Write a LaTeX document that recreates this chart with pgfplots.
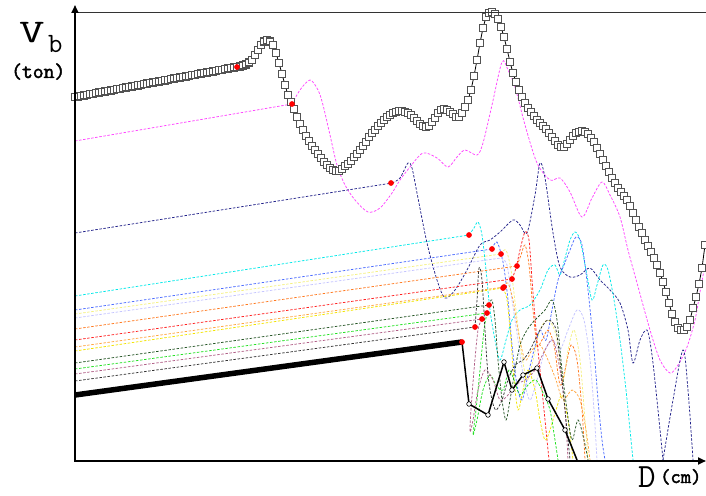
\documentclass[border=0pt]{standalone}
\usepackage{pgfplots}
\pgfplotsset{compat=1.18}
\usetikzlibrary{arrows.meta}
\usepackage{fontspec}
\newfontfamily\mono{Latin Modern Mono}
\newfontfamily\monob[AutoFakeBold=2.2]{Latin Modern Mono}
\definecolor{cMag}{HTML}{FF44FF}
\definecolor{cNavy}{HTML}{22228A}
\definecolor{cCyan}{HTML}{00E8E8}
\definecolor{cBlue}{HTML}{4C6CFF}
\definecolor{cLYel}{HTML}{F4F080}
\definecolor{cLav}{HTML}{C4C4FF}
\definecolor{cOrg}{HTML}{FF7A20}
\definecolor{cRed}{HTML}{FF2020}
\definecolor{cLOrg}{HTML}{FFA640}
\definecolor{cYel}{HTML}{F2E400}
\definecolor{cDGr}{HTML}{245424}
\definecolor{cGrn}{HTML}{20E020}
\definecolor{cMauve}{HTML}{B05E86}
\definecolor{cBlk}{HTML}{333333}
\tikzset{dl/.style={color=#1,line width=0.75pt,dash pattern=on 2.5pt off 1.6pt}}
\begin{document}
\begin{tikzpicture}
\begin{axis}[at={(0,0)},anchor=south west,scale only axis,width=631pt,height=448pt,
  xmin=75,xmax=706,ymin=12,ymax=460,y dir=reverse,hide axis,clip=false]
% magenta
\addplot[dl=cMag] coordinates {(75,141) (292,104)};
\addplot[dl=cMag,smooth] coordinates {(292,104) (300,90) (310,80) (318,90) (323,105) (330,135) (337,165) (345,185) (355,200) (368,212) (380,208) (392,193) (400,180) (410,167) (423,153) (437,158) (448,167) (457,157) (465,150) (477,155) (483,143) (492,105) (502,62) (508,70) (515,87) (525,125) (537,163) (550,180) (560,178) (570,192) (582,217) (592,198) (602,182) (610,195) (620,217) (628,250) (637,283) (650,330) (660,360) (670,373) (678,365) (687,347) (695,320) (700,292) (705,265)};
% navy
\addplot[dl=cNavy] coordinates {(75,233) (392,183)};
\addplot[dl=cNavy,smooth] coordinates {(392,183) (400,178) (408,163) (412,168) (417,193) (427,243) (437,280) (445,298) (455,290) (467,270) (480,245) (490,240) (500,232) (513,220) (520,225) (527,233) (535,195) (540,163) (545,178) (553,233) (560,267) (570,277) (580,275) (590,268) (600,280) (610,290) (620,303) (628,330) (633,363) (640,340) (647,330) (652,355) (658,410) (663,460)};
\addplot[dl=cNavy,smooth] coordinates {(663,460) (673,400) (683,350) (688,390) (693,460)};
% cyan
\addplot[dl=cCyan] coordinates {(75,296) (469,235)};
\addplot[dl=cCyan,smooth] coordinates {(469,235) (474,228) (478,222) (482,235) (486,270) (490,310) (495,340) (500,360) (506,340) (512,320) (520,310) (530,305) (540,290) (548,270) (555,265) (560,275) (565,258) (570,240) (575,232) (580,240) (586,270) (592,300) (597,285) (603,265) (608,270) (614,300) (620,340) (626,390) (630,430) (633,460)};
% blue
\addplot[dl=cBlue] coordinates {(75,310) (492,249)};
\addplot[dl=cBlue,smooth] coordinates {(492,249) (497,242) (503,262) (508,300) (512,345) (517,385) (522,400) (528,375) (534,350) (540,330) (546,340) (552,310) (558,280) (564,265) (570,250) (576,237) (582,245) (588,290) (594,350) (598,400) (602,440) (605,460)};
% light yellow
\addplot[dl=cLYel] coordinates {(75,314) (501,254)};
\addplot[dl=cLYel,smooth] coordinates {(501,254) (506,250) (511,270) (516,310) (521,350) (527,380) (533,360) (540,330) (548,320) (556,335) (563,380) (568,350) (574,330) (580,360) (585,420) (588,460)};
% lavender
\addplot[dl=cLav] coordinates {(75,318) (501,258)};
\addplot[dl=cLav,smooth] coordinates {(501,258) (507,265) (512,300) (518,340) (524,380) (530,400) (537,380) (545,350) (553,340) (560,350) (568,330) (577,310) (584,320) (590,360) (594,410) (597,460)};
% orange
\addplot[dl=cOrg] coordinates {(75,329) (517,266)};
\addplot[dl=cOrg,smooth] coordinates {(517,266) (521,255) (525,245) (529,265) (533,310) (537,345) (542,340) (548,330) (554,345) (560,385) (565,370) (571,345) (577,360) (582,410) (585,460)};
% red
\addplot[dl=cRed] coordinates {(75,340) (512,279)};
\addplot[dl=cRed,smooth] coordinates {(512,279) (516,268) (520,250) (525,232) (529,240) (532,280) (536,330) (540,370) (544,410) (547,440) (549,460)};
% light orange
\addplot[dl=cLOrg] coordinates {(75,347) (504,287)};
\addplot[dl=cLOrg,smooth] coordinates {(504,287) (508,283) (513,300) (518,330) (525,360) (532,350) (540,345) (548,360) (556,380) (563,400) (572,390) (580,400) (586,430) (590,460)};
% yellow
\addplot[dl=cYel] coordinates {(75,351) (503,288)};
\addplot[dl=cYel,smooth] coordinates {(503,288) (507,300) (511,340) (514,380) (518,410) (522,395) (528,370) (535,390) (540,420) (545,440) (550,430) (556,410) (562,395) (568,420) (573,460)};
% dark green
\addplot[dl=cDGr] coordinates {(75,363) (489,305)};
\addplot[dl=cDGr,smooth] coordinates {(489,305) (492,300) (495,320) (498,360) (502,400) (506,420) (510,400) (515,370) (520,345) (527,330) (535,320) (545,310) (552,300) (557,320) (562,370) (567,410) (572,440) (578,420) (584,440) (588,460)};
% green
\addplot[dl=cGrn] coordinates {(75,369) (487,313)};
\addplot[dl=cGrn,smooth] coordinates {(487,313) (484,330) (480,370) (476,410) (473,435) (477,420) (483,390) (490,375) (496,385) (503,390) (509,370) (514,380) (520,395) (528,385) (536,380) (544,395) (550,410) (555,440) (558,460)};
% mauve
\addplot[dl=cMauve] coordinates {(75,374) (482,319)};
\addplot[dl=cMauve,smooth] coordinates {(482,319) (478,330) (474,370) (471,410) (470,432) (473,420) (478,390) (485,370) (493,380) (500,400) (508,395) (515,385) (525,380) (535,370) (545,350) (553,340) (560,370) (565,410) (568,460)};
% black dashed
\addplot[dl=cBlk] coordinates {(75,381) (475,327)};
\addplot[dl=cBlk,smooth] coordinates {(475,327) (477,300) (479,268) (482,280) (485,330) (488,375) (492,400) (496,410) (502,400) (508,380) (515,365) (523,360) (530,350) (540,330) (548,320) (556,330) (562,380) (566,420) (570,460)};
% thick black line and circle line
\addplot[black,line width=5.5pt] coordinates {(75,395) (462,342)};
\addplot[black,line width=1.5pt] coordinates {(462,342) (469,404)};
\addplot[black,line width=1.5pt] coordinates {(565,430) (577,460)};
\addplot[black,line width=1.5pt,mark=*,mark size=2.3pt,mark options={fill=white,draw=black,line width=0.6pt}] coordinates {(469,404) (488,415) (504,362) (512,390) (523,375) (537,368) (548,399) (565,430)};
% main square curve
\addplot[black,line width=0.8pt,mark=square*,mark size=3.5pt,mark options={fill=white,draw=black!68,line width=1.4pt}] coordinates {
(75,97.0) (78,96.4) (81,95.9) (84,95.3) (87,94.8) (90,94.2) (93,93.7) (96,93.1) (99,92.6) (102,92.0)
(105,91.4) (108,90.9) (111,90.3) (114,89.8) (117,89.2) (120,88.7) (123,88.1) (126,87.6) (129,87.0) (132,86.4)
(135,85.9) (138,85.3) (141,84.8) (144,84.2) (147,83.7) (150,83.1) (153,82.6) (156,82.0) (159,81.4) (162,80.9)
(165,80.3) (168,79.8) (171,79.2) (174,78.7) (177,78.1) (180,77.6) (183,77.0) (186,76.4) (189,75.9) (192,75.3)
(195,74.8) (198,74.2) (201,73.7) (204,73.1) (207,72.6) (210,72.0) (213,71.4) (216,70.9) (219,70.3) (222,69.8)
(225,69.2) (228,68.7) (231,68.1) (234,67.6) (237,67) (240,66.5) (243,65.5) (246,64.5) (249,62.5) (252,60)
(255,55) (258,50) (261,45) (264,41.5) (267,40) (270,41.5) (273,45) (276,53) (279,63) (282,74)
(285,85) (288,95) (291,102) (294,109) (297,117) (300,124) (303,130) (306,136) (309,141) (312,146)
(315,150) (318,154) (321,158) (324,162) (327,165) (330,168) (333,170) (336,171) (339,171) (342,169)
(345,166) (348,164) (351,161) (354,157) (357,154) (360,150) (363,146) (366,142) (369,137) (372,133)
(375,130) (378,126) (381,123) (384,120) (387,117) (390,115) (393,113) (396,112) (399,111) (402,111)
(405,112) (408,113) (411,115) (414,118) (417,121) (420,124) (423,126) (426,127) (429,126) (432,122)
(435,118) (438,113) (441,110) (444,109) (447,110) (450,112) (453,114) (456,117) (459,117) (462,113)
(465,107) (468,100) (471,90) (474,76) (477,60) (480,43) (483,28) (486,17) (489,13) (492,12)
(495,14) (498,19) (501,27) (504,37) (507,49) (510,62) (513,73) (516,82) (519,90) (522,97)
(525,103) (528,108) (531,112) (534,116) (537,120) (540,123) (543,126) (546,129) (549,133) (552,137)
(555,141) (558,145) (561,147) (564,147) (567,144) (570,140) (573,136) (576,133) (579,132) (582,131)
(585,132) (588,134) (591,138) (594,142) (597,148) (600,154) (603,160) (606,166) (609,172) (612,178)
(615,183) (618,188) (621,192) (624,196) (627,200) (630,206) (633,213) (636,220) (639,227) (642,233)
(645,240) (648,246) (651,252) (654,258) (657,265) (660,273) (663,282) (666,292) (669,303) (672,314)
(675,322) (678,328) (681,330) (684,330) (687,327) (690,320) (693,308) (696,297) (699,284) (702,268) (705,245)};
% red dots
\addplot[only marks,mark=*,mark size=2.6pt,color=red] coordinates {(237,67) (292,104) (391,183) (469,235) (492,249) (501,254) (517,266) (512,279) (504,287) (503,288) (489,305) (487,313) (482,319) (475,327) (462,342)};
\end{axis}
% axes frame
\draw[black!80,line width=0.8pt] (1pt,448pt) -- (631pt,448pt);
\draw[black,line width=2pt,-{Triangle[length=8pt,width=7pt]}] (0,-1pt) -- (0,455pt);
\draw[black,line width=2.5pt,-{Triangle[length=8pt,width=7pt]}] (-1pt,-1pt) -- (631pt,-1pt);
% labels
\node[anchor=base west,inner sep=0pt] at (-56pt,417pt) {\scalebox{1.5}[1]{\fontsize{33}{33}\selectfont\mono V}};
\node[anchor=base west,inner sep=0pt] at (-27pt,407pt) {\fontsize{28}{28}\selectfont\mono b};
\node[anchor=base west,inner sep=0pt] at (-64pt,382pt) {\fontsize{21}{21}\selectfont\monob\bfseries (ton)};
\node[anchor=base west,inner sep=0pt] at (563pt,-27pt) {\fontsize{34}{34}\selectfont\mono D};
\node[anchor=base west,inner sep=0pt] at (585pt,-23pt) {\fontsize{20}{20}\selectfont\monob\bfseries (cm)};
\pgfresetboundingbox
\useasboundingbox (-75pt,-35pt) rectangle (631pt,460pt);
\end{tikzpicture}
\end{document}
